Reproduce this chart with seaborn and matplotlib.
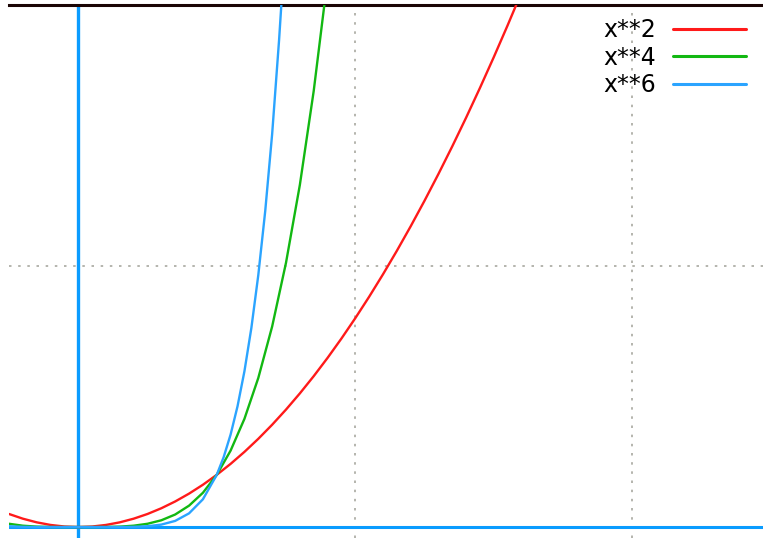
import numpy as np
import pandas as pd
import seaborn as sns
import matplotlib.pyplot as plt

# values (x**2, x**4, x**6 curves)
x_sq = [-0.5, -0.4, -0.3, -0.2, -0.1, 0.0, 0.1, 0.2, 0.3, 0.4, 0.5, 0.6, 0.7, 0.8, 0.9,
        1.0, 1.1, 1.2, 1.3, 1.4, 1.5, 1.6, 1.7, 1.8, 1.9, 2.0, 2.1, 2.2, 2.3, 2.4, 2.5,
        2.6, 2.7, 2.8, 2.9, 3.0, 3.1, 3.2]
y_sq = [0.25, 0.16, 0.09, 0.04, 0.01, 0.0, 0.01, 0.04, 0.09, 0.16, 0.25, 0.36, 0.49, 0.64,
        0.81, 1.0, 1.21, 1.44, 1.69, 1.96, 2.25, 2.56, 2.89, 3.24, 3.61, 4.0, 4.41, 4.84,
        5.29, 5.76, 6.25, 6.76, 7.29, 7.84, 8.41, 9.0, 9.61, 10.24]

x_4 = [-0.5, -0.4, -0.3, -0.2, -0.1, 0.0, 0.1, 0.2, 0.3, 0.4, 0.5, 0.6, 0.7, 0.8, 0.9,
       1.0, 1.1, 1.2, 1.3, 1.4, 1.5, 1.6, 1.7, 1.8]
y_4 = [0.0625, 0.0256, 0.0081, 0.0016, 0.0001, 0.0, 0.0001, 0.0016, 0.0081, 0.0256,
       0.0625, 0.1296, 0.2401, 0.4096, 0.6561, 1.0, 1.4641, 2.0736, 2.8561, 3.8416,
       5.0625, 6.5536, 8.3521, 10.4976]

x_6 = [-0.5, -0.4, -0.3, -0.2, -0.1, 0.0, 0.1, 0.2, 0.3, 0.4, 0.5, 0.6, 0.7, 0.8, 0.9,
       1.0, 1.05, 1.1, 1.15, 1.2, 1.25, 1.3, 1.35, 1.4, 1.45, 1.5]
y_6 = [0.0156, 0.0041, 0.0007, 0.0001, 0.0, 0.0, 0.0, 0.0001, 0.0007, 0.0041, 0.0156,
       0.0467, 0.1176, 0.2621, 0.5314, 1.0, 1.3401, 1.7716, 2.3131, 2.986, 3.8147,
       4.8268, 6.0534, 7.5295, 9.3291, 11.3906]

labels = ['x**2', 'x**4', 'x**6']
colors = ['#ff1a1a', '#12b812', '#2ba4ff']

sns.set_style('white')
plt.rcParams['font.family'] = ['DejaVu Sans']

fig = plt.figure(figsize=(7.63, 5.41), dpi=100)
ax = fig.add_axes([9/763, 3/541, 1 - 9/763, (538 - 5)/541])

# grid + zero axes
for gx in [2, 4]:
    ax.axvline(gx, color='#a8a8a0', lw=1.2, ls=(0, (1.5, 4)), zorder=1)
ax.axhline(5, color='#a8a8a0', lw=1.2, ls=(0, (1.5, 4)), zorder=1)
ax.axhline(0, color='#0a9cff', lw=2.2, zorder=2)
ax.axvline(0, color='#0a9cff', lw=2.4, zorder=2)

for xs, ys, lab, c in zip([x_sq, x_4, x_6], [y_sq, y_4, y_6], labels, colors):
    df = pd.DataFrame({'x': xs, 'y': ys})
    sns.lineplot(data=df, x='x', y='y', ax=ax, color=c, lw=1.7, label=lab, zorder=3)

ax.set_xlim(-0.5, 4.944)
ax.set_ylim(-0.21, 10)
ax.set_xticks([])
ax.set_yticks([])
ax.set_xlabel('')
ax.set_ylabel('')
for s in ['left', 'right', 'bottom']:
    ax.spines[s].set_visible(False)
ax.spines['top'].set_color('#1a0505')
ax.spines['top'].set_linewidth(2.2)

ax.get_legend().remove()
h, l = ax.get_legend_handles_labels()
leg = fig.legend(h, l, loc='upper right', bbox_to_anchor=(746/763, 1 - 18/541),
                 frameon=False, markerfirst=False, fontsize=17, handlelength=3.1,
                 handletextpad=0.7, labelspacing=0.15, borderpad=0, borderaxespad=0)
for t in leg.get_texts():
    t.set_color('black')
for ln in leg.get_lines():
    ln.set_linewidth(2.2)

fig.savefig('out.png', dpi=100)
